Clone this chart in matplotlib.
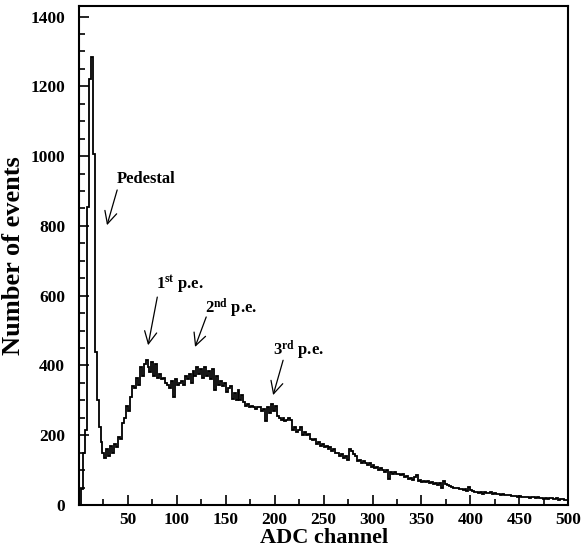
import numpy as np
import matplotlib
matplotlib.use("Agg")
import matplotlib.pyplot as plt
from matplotlib.ticker import MultipleLocator

plt.rcParams['font.family'] = ['Liberation Serif', 'DejaVu Serif']
plt.rcParams['font.weight'] = 'bold'
plt.rcParams['mathtext.fontset'] = 'custom'
plt.rcParams['mathtext.rm'] = 'Liberation Serif:bold'
plt.rcParams['mathtext.bf'] = 'Liberation Serif:bold'
plt.rcParams['mathtext.it'] = 'Liberation Serif:bold'

# ADC histogram: bin width (channels) and counts per bin, starting at channel 0
bin_width = 2
counts = [
    0, 45, 150, 215, 855, 1220, 1284, 1005, 440, 300,
    225, 180, 150, 135, 160, 140, 170, 150, 175, 165,
    195, 190, 235, 250, 285, 270, 310, 340, 335, 365,
    345, 395, 370, 405, 415, 395, 380, 410, 370, 405,
    365, 375, 360, 365, 350, 345, 335, 355, 310, 360,
    345, 350, 355, 345, 370, 360, 375, 350, 385, 370,
    395, 375, 390, 365, 395, 370, 385, 360, 390, 330,
    370, 345, 355, 340, 350, 325, 335, 340, 305, 320,
    300, 330, 300, 315, 295, 285, 290, 280, 285, 280,
    275, 280, 280, 270, 275, 240, 280, 265, 290, 270,
    285, 255, 250, 245, 250, 240, 245, 250, 245, 215,
    225, 210, 215, 225, 200, 210, 200, 205, 190, 185,
    190, 175, 180, 170, 175, 165, 170, 160, 165, 155,
    160, 150, 150, 140, 145, 135, 140, 130, 160, 155,
    145, 140, 125, 130, 120, 125, 120, 115, 120, 110,
    115, 105, 110, 100, 105, 100, 95, 100, 75, 95,
    90, 95, 88, 90, 85, 88, 80, 82, 75, 78,
    72, 80, 85, 70, 72, 65, 68, 65, 70, 62,
    66, 60, 63, 58, 62, 48, 70, 60, 57, 55,
    52, 50, 48, 50, 45, 46, 42, 45, 40, 52,
    42, 40, 37, 38, 35, 36, 33, 36, 35, 34,
    36, 32, 34, 31, 33, 30, 32, 29, 30, 28,
    29, 27, 25, 26, 23, 25, 22, 24, 22, 23,
    21, 23, 22, 20, 22, 19, 21, 18, 20, 17,
    21, 19, 18, 17, 19, 15, 17, 16, 14, 15,
]

xticks = [50, 100, 150, 200, 250, 300, 350, 400, 450, 500]
yticks = [0, 200, 400, 600, 800, 1000, 1200, 1400]

# annotations: text, text position (channel, counts), arrow tail, arrow tip
ann_labels = ["Pedestal", r"1$^{\rm st}$ p.e.", r"2$^{\rm nd}$ p.e.", r"3$^{\rm rd}$ p.e."]
ann_text_pos = [(39, 922), (79, 622), (129, 550), (198, 430)]
ann_tail = [(39, 903), (80, 596), (130, 539), (208.6, 415)]
ann_tip = [(28.6, 802), (70.6, 458), (118.6, 453), (198.4, 315)]

fig = plt.figure(figsize=(5.81, 5.54), dpi=100)
ax = fig.add_axes([0.136, 0.0884, 0.842, 0.9006])

edges = np.arange(len(counts) + 1) * bin_width
ax.stairs(counts, edges, color='black', linewidth=1.3)

ax.set_xlim(0, 500)
ax.set_ylim(0, 1430)
ax.set_xticks(xticks)
ax.set_yticks(yticks)
ax.xaxis.set_minor_locator(MultipleLocator(25))
ax.yaxis.set_minor_locator(MultipleLocator(50))
ax.tick_params(which='both', direction='in', top=False, right=False, width=1.2)
ax.tick_params(which='major', length=7, labelsize=12.5)
ax.tick_params(axis='x', which='major', pad=5)
ax.tick_params(axis='y', which='major', pad=10)
ax.tick_params(which='minor', length=4)
for lab in ax.get_xticklabels() + ax.get_yticklabels():
    lab.set_fontweight('bold')
for sp in ax.spines.values():
    sp.set_linewidth(1.5)

ax.set_xlabel("ADC channel", fontsize=16, fontweight='bold', labelpad=0)
ax.set_ylabel("Number of events", fontsize=19, fontweight='bold', labelpad=4)

for lab, tp, tail, tip in zip(ann_labels, ann_text_pos, ann_tail, ann_tip):
    ax.text(tp[0], tp[1], lab, fontsize=12, fontweight='bold', ha='left', va='baseline')
    ax.annotate('', xy=tip, xytext=tail,
                arrowprops=dict(arrowstyle='->', color='black', lw=0.9,
                                mutation_scale=22, shrinkA=0, shrinkB=0))

fig.savefig("out.png", dpi=100)
